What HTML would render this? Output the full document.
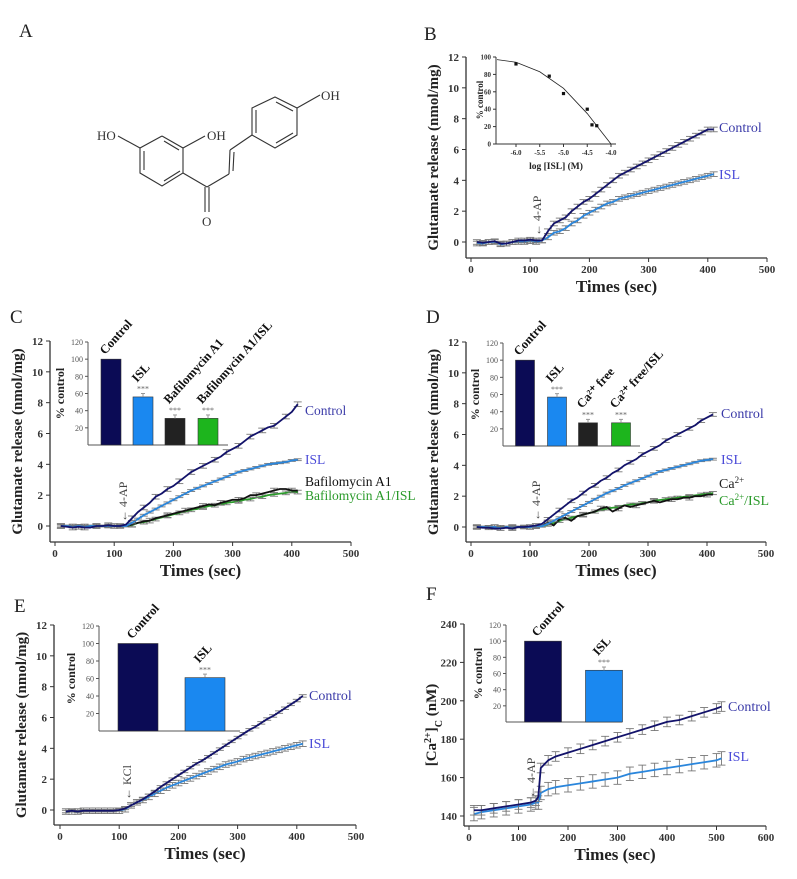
<!DOCTYPE html>
<html><head><meta charset="utf-8"><style>
body{margin:0;background:#fff}
svg{display:block;font-family:"Liberation Serif",serif}
</style></head><body>
<svg id="fig" width="797" height="879" viewBox="0 0 797 879" xmlns="http://www.w3.org/2000/svg">
<g stroke="#333" stroke-width="1.1" fill="none">
<text x="19" y="37" font-size="19" fill="#222" stroke="none">A</text>
<polyline points="162,136 183,148 183,173 162,186 140,173 140,148 162,136"/>
<line x1="144" y1="151" x2="144" y2="170"/><line x1="164" y1="181" x2="180" y2="171"/><line x1="164" y1="141" x2="179" y2="150"/>
<line x1="140" y1="148" x2="118" y2="136"/><line x1="183" y1="148" x2="205" y2="136"/>
<line x1="183" y1="173" x2="207" y2="187"/><line x1="205" y1="187" x2="205" y2="212"/><line x1="209" y1="187" x2="209" y2="212"/>
<line x1="207" y1="187" x2="229" y2="174"/><line x1="229" y1="174" x2="230" y2="150"/><line x1="233" y1="171" x2="234" y2="152"/>
<line x1="230" y1="150" x2="252" y2="135"/>
<polyline points="252,135 252,108 275,97 297,108 297,135 275,148 252,135"/>
<line x1="256" y1="110" x2="256" y2="133"/><line x1="276" y1="102" x2="293" y2="111"/><line x1="276" y1="143" x2="293" y2="133"/>
<line x1="297" y1="108" x2="320" y2="95"/>
<g fill="#333" stroke="none" font-size="13">
<text x="97" y="140">HO</text>
<text x="207" y="140">OH</text>
<text x="321" y="100">OH</text>
<text x="202" y="226">O</text>
</g></g>
</svg>
<script>
// ---------- data ----------
const T = [10,20,30,40,50,60,70,80,90,100,110,120,130,140,150,160,170,180,190,200,210,220,230,240,250,260,270,280,290,300,310,320,330,340,350,360,370,380,390,400,410];
const B_ctrl = [0,-0.05,0,0.05,-0.1,-0.1,0,0.1,0.1,0.15,0.1,0.1,0.7,1.2,1.4,1.6,2.0,2.3,2.6,2.8,3.1,3.4,3.7,4.0,4.3,4.5,4.7,4.9,5.1,5.3,5.5,5.7,5.9,6.1,6.3,6.5,6.7,6.9,7.1,7.3,7.3];
const B_isl = [-0.1,-0.1,0,0,-0.15,-0.1,0,0,0,0.05,0,0.1,0.3,0.6,0.7,0.9,1.2,1.4,1.7,1.9,2.1,2.3,2.5,2.6,2.8,2.9,3.0,3.1,3.2,3.3,3.4,3.5,3.6,3.7,3.8,3.9,4.0,4.1,4.2,4.3,4.4];
const B_ic50_x = [-6.0,-5.3,-5.0,-4.5,-4.4,-4.3];
const B_ic50_y = [92,78,58,40,22,21];
const B_fit_x = [-6.4,-6.0,-5.5,-5.0,-4.5,-4.2,-4.0];
const B_fit_y = [97,94,83,64,35,14,0];
const C_ctrl = [0,-0.05,-0.1,-0.05,-0.1,-0.1,0,0,0.05,0,0,0.1,0.5,0.9,1.2,1.5,1.9,2.1,2.4,2.6,2.9,3.2,3.5,3.7,3.9,4.1,4.3,4.5,4.8,5.0,5.2,5.5,5.8,6.0,6.2,6.4,6.5,6.8,7.1,7.4,7.9];
const C_isl = [0,0,-0.05,0,-0.05,0,0,0,0,0,0,0,0.2,0.45,0.7,0.9,1.1,1.3,1.5,1.7,1.9,2.1,2.3,2.45,2.6,2.75,2.9,3.05,3.2,3.35,3.5,3.6,3.7,3.8,3.9,4.0,4.05,4.1,4.15,4.25,4.3];
const C_baf = [0,0,0,-0.05,0,0,0,0,0,0,0,0,0.1,0.2,0.3,0.35,0.5,0.6,0.7,0.8,0.9,1.0,1.1,1.2,1.3,1.4,1.35,1.5,1.6,1.7,1.7,1.8,2.0,2.0,2.1,2.2,2.3,2.4,2.4,2.3,2.3];
const C_bafisl = [0,0,0,0,0,0,0,0,0,0,0,0,0.05,0.2,0.25,0.35,0.45,0.55,0.65,0.75,0.85,0.95,1.05,1.1,1.2,1.3,1.35,1.4,1.5,1.55,1.6,1.7,1.75,1.85,1.9,2.0,2.05,2.1,2.15,2.2,2.2];
const C_bars = [100,56,31,31];
const C_barNames = ["Control","ISL","Bafilomycin A1","Bafilomycin A1/ISL"];
const D_ctrl = [0,-0.05,-0.05,-0.1,-0.1,-0.05,-0.1,0,0,0.05,0.1,0.2,0.5,0.8,1.1,1.4,1.7,1.9,2.2,2.5,2.7,3.0,3.2,3.5,3.7,4.0,4.2,4.4,4.7,4.9,5.1,5.3,5.6,5.8,6.0,6.2,6.4,6.6,6.9,7.1,7.3];
const D_isl = [0,0,0,0,-0.05,0,0,0,0,0,0,0.05,0.2,0.4,0.6,0.8,1.0,1.2,1.4,1.6,1.8,2.0,2.2,2.35,2.5,2.7,2.85,3.0,3.15,3.3,3.45,3.6,3.7,3.8,3.9,4.0,4.1,4.2,4.3,4.35,4.4];
const D_ca = [0,0,0,0,-0.05,0,0,0,0,0,0,0.05,0.3,0.1,0.5,0.6,0.4,0.7,0.8,0.9,1.0,1.2,1.3,1.0,1.2,1.4,1.3,1.4,1.5,1.6,1.7,1.6,1.7,1.8,1.8,1.9,1.9,2.0,2.0,2.1,2.1];
const D_caisl = [0,0,0,0,0,0,0,0,0,0,0,0.05,0.15,0.25,0.4,0.5,0.6,0.7,0.8,0.9,1.0,1.1,1.2,1.25,1.3,1.4,1.45,1.5,1.55,1.6,1.7,1.75,1.8,1.85,1.9,1.95,2.0,2.05,2.1,2.15,2.2];
const D_bars = [100,57,27,27];
const D_barNames = ["Control","ISL","Ca²⁺ free","Ca²⁺ free/ISL"];
const E_ctrl = [-0.1,-0.05,-0.1,-0.05,-0.05,-0.05,-0.05,-0.05,-0.05,0,0.1,0.3,0.5,0.7,0.95,1.2,1.5,1.75,2.0,2.25,2.5,2.75,3.0,3.2,3.45,3.7,3.95,4.2,4.45,4.7,4.95,5.2,5.4,5.65,5.9,6.1,6.35,6.6,6.85,7.1,7.4];
const E_isl = [-0.1,-0.1,-0.1,-0.05,-0.05,-0.05,-0.05,-0.05,-0.05,-0.05,0.05,0.3,0.5,0.65,0.85,1.05,1.25,1.45,1.6,1.75,1.9,2.05,2.2,2.35,2.5,2.65,2.8,2.95,3.05,3.15,3.3,3.4,3.5,3.6,3.7,3.8,3.9,4.0,4.1,4.2,4.3];
const E_bars = [100,61];
const E_barNames = ["Control","ISL"];
const F_T = [10,25,50,75,100,125,135,140,145,160,175,200,225,250,275,300,325,350,375,400,425,450,475,500,510];
const F_ctrl = [143,143,144,145,146,147,148,150,165,169,171,173,175,177,179,181,183,185,187,189,190,192,194,196,197];
const F_isl = [141,142,143,144,145,146,147,147,152,154,155,156,157,158,159,160,162,163,164,165,166,167,168,169,170];
const F_bars = [100,64];
const F_barNames = ["Control","ISL"];
const yTicks12 = [0,2,4,6,8,10,12];
const xTicks500 = [0,100,200,300,400,500];
const xTicks600 = [0,100,200,300,400,500,600];
const yTicksF = [140,160,180,200,220,240];
const insetTicks = [20,40,60,80,100,120];
const ic50Yticks = [0,20,40,60,80,100];
const ic50Xticks = [-6.0,-5.5,-5.0,-4.5,-4.0];

// ---------- helpers ----------
const NS="http://www.w3.org/2000/svg";
const svg=document.getElementById('fig');
function mk(tag,attrs,parent,txt){const e=document.createElementNS(NS,tag);for(const k in attrs)e.setAttribute(k,attrs[k]);if(txt!==undefined)e.textContent=txt;(parent||svg).appendChild(e);return e;}
function lin(d0,d1,p0,p1){return v=>p0+(v-d0)*(p1-p0)/(d1-d0);}
const NAVY="#12126a",BLUE="#2a86dc",BLACK="#111",GREEN="#2a9a2a";

function axes(g,cfg,name){
  const sx=cfg.sx,sy=cfg.sy;
  let a=mk('line',{x1:cfg.ax,y1:sy(cfg.yt[cfg.yt.length-1]),x2:cfg.ax,y2:cfg.ay,stroke:'#333','stroke-width':1.3},g);
  
  
  a=mk('line',{x1:cfg.ax,y1:cfg.ay,x2:sx(cfg.xt[cfg.xt.length-1]),y2:cfg.ay,stroke:'#333','stroke-width':1.3},g);
  
  
  cfg.yt.forEach(v=>{mk('line',{x1:cfg.ax-4,x2:cfg.ax,y1:sy(v),y2:sy(v),stroke:'#333'},g);
    const t=mk('text',{x:cfg.ax-7,y:sy(v)+4,'text-anchor':'end','font-size':11,'font-weight':'bold',fill:'#333'},g,v);
    
    });
  cfg.xt.forEach(v=>{mk('line',{x1:sx(v),x2:sx(v),y1:cfg.ay,y2:cfg.ay+4,stroke:'#333'},g);
    const t=mk('text',{x:sx(v),y:cfg.ay+15,'text-anchor':'middle','font-size':11,'font-weight':'bold',fill:'#333'},g,v);
    
    });
  const xt=mk('text',{x:(cfg.ax+sx(cfg.xt[cfg.xt.length-1]))/2,y:cfg.ay+34,'text-anchor':'middle','font-size':17,'font-weight':'bold',fill:'#222'},g,'Times (sec)');
  
  
  const cy=(sy(cfg.yt[cfg.yt.length-1])+cfg.ay)/2, tx=cfg.ax-28;
  const yt=mk('text',{x:tx,y:cy,'text-anchor':'middle','font-size':15,'font-weight':'bold',fill:'#222',transform:`rotate(-90 ${tx} ${cy})`},g,cfg.ytitle||'Glutamate release (nmol/mg)');
  
  
  return yt;
}
function series(g,cfg,xs,ys,color,name,eb,ebEvery){
  const sx=cfg.sx,sy=cfg.sy;
  const eg=mk('g',{stroke:'#777','stroke-width':0.9},g);
  
  
  xs.forEach((x,i)=>{if(i%(ebEvery||1))return;const X=sx(x),y1=sy(ys[i]+eb),y2=sy(ys[i]-eb);
    mk('line',{x1:X,x2:X,y1:y1,y2:y2},eg);mk('line',{x1:X-4,x2:X+4,y1:y1,y2:y1},eg);mk('line',{x1:X-4,x2:X+4,y1:y2,y2:y2},eg);});
  const p=mk('polyline',{points:xs.map((x,i)=>sx(x)+','+sy(ys[i])).join(' '),fill:'none',stroke:color,'stroke-width':1.8,'stroke-linejoin':'round'},g);
  
  
}
function label(g,x,y,txt,color,name,size){
  const t=mk('text',{x:x,y:y,'font-size':size||14,fill:color},g,txt);
  
  
  return t;
}
function arrowNote(g,x,y,txt){
  const t=mk('text',{x:x,y:y,'font-size':12,fill:'#444',transform:`rotate(-90 ${x} ${y})`},g,'← '+txt);
  
  
}
function inset(g,c,vals,names,colors,name){
  const sy=lin(0,120,c.y0,c.y120);
  let a=mk('line',{x1:c.ax,x2:c.ax,y1:c.y120,y2:c.y0,stroke:'#555'},g);
  
  
  a=mk('line',{x1:c.ax,x2:c.xEnd,y1:c.y0,y2:c.y0,stroke:'#555'},g);
  
  
  insetTicks.forEach(v=>{mk('line',{x1:c.ax-3,x2:c.ax,y1:sy(v),y2:sy(v),stroke:'#555'},g);
    const t=mk('text',{x:c.ax-5,y:sy(v)+3,'text-anchor':'end','font-size':8,fill:'#555'},g,v);
    
    });
  const cy=(c.y0+c.y120)/2,tx=c.ax-24;
  const yt=mk('text',{x:tx,y:cy,'text-anchor':'middle','font-size':12,'font-weight':'bold',fill:'#222',transform:`rotate(-90 ${tx} ${cy})`},g,'% control');
  
  
  vals.forEach((v,i)=>{const cx=c.cx[i],w=c.w;
    const r=mk('rect',{x:cx-w/2,y:sy(v),width:w,height:c.y0-sy(v),fill:colors[i],stroke:'#333','stroke-width':0.6},g);
    
    
    if(i>0){mk('line',{x1:cx,x2:cx,y1:sy(v+4),y2:sy(v),stroke:'#999'},g);mk('line',{x1:cx-2,x2:cx+2,y1:sy(v+4),y2:sy(v+4),stroke:'#999'},g);
      const s=mk('text',{x:cx,y:sy(v+5)-1,'text-anchor':'middle','font-size':8,fill:'#666'},g,'***');
      
      }
    const ly=sy(v)-(i>0?14:4),lx=cx-6;
    const t=mk('text',{x:lx,y:ly,'font-size':12.5,'font-weight':'bold',fill:'#111',transform:`rotate(-48 ${lx} ${ly})`},g,names[i]);
    
    
  });
}
function panelLetter(g,x,y,L){const t=mk('text',{x:x,y:y,'font-size':19,fill:'#222'},g,L);
  
  }

// ---------- Panel B ----------
let g=mk('g',{});


panelLetter(g,424,40,'B');
let cB={ax:466,ay:258,sx:lin(0,500,471,767),sy:lin(0,12,242,57),xt:xTicks500,yt:yTicks12};
axes(g,cB,'panel-b');
series(g,cB,T,B_isl,BLUE,'b-isl',0.15);
series(g,cB,T,B_ctrl,NAVY,'b-control',0.15);
arrowNote(g,541,236,'4-AP');
label(g,719,132,'Control','#3a3aa8','b-control-label');
label(g,719,179,'ISL','#4a4ad8','b-isl-label');
// IC50 inset
const ix=lin(-6,-4,516,611), iy=lin(0,100,144,57);
mk('line',{x1:496,x2:496,y1:57,y2:144,stroke:'#333'},g);
mk('line',{x1:496,x2:616,y1:144,y2:144,stroke:'#333'},g);
ic50Yticks.forEach(v=>{mk('line',{x1:493,x2:496,y1:iy(v),y2:iy(v),stroke:'#333'},g);
  const t=mk('text',{x:491,y:iy(v)+2.5,'text-anchor':'end','font-size':7,'font-weight':'bold',fill:'#333'},g,v);
  
  });
ic50Xticks.forEach(v=>{mk('line',{x1:ix(v),x2:ix(v),y1:144,y2:147,stroke:'#333'},g);
  const t=mk('text',{x:ix(v),y:155,'text-anchor':'middle','font-size':7,'font-weight':'bold',fill:'#333'},g,v.toFixed(1));
  
  });
let it=mk('text',{x:556,y:169,'text-anchor':'middle','font-size':9.5,'font-weight':'bold',fill:'#222'},g,'log [ISL] (M)');


it=mk('text',{x:483,y:100,'text-anchor':'middle','font-size':9,'font-weight':'bold',fill:'#222',transform:'rotate(-90 483 100)'},g,'% control');


let fit=mk('polyline',{points:B_fit_x.map((x,i)=>ix(x)+','+iy(B_fit_y[i])).join(' '),fill:'none',stroke:'#222','stroke-width':0.8},g);


B_ic50_x.forEach((x,i)=>{const p=mk('rect',{x:ix(x)-1.6,y:iy(B_ic50_y[i])-1.6,width:3.2,height:3.2,fill:'#111'},g);
  
  });

// ---------- Panel C ----------
g=mk('g',{});


panelLetter(g,10,323,'C');
let cC={ax:50,ay:542,sx:lin(0,500,55,351),sy:lin(0,12,526,341),xt:xTicks500,yt:yTicks12};
axes(g,cC,'panel-c');
series(g,cC,T,C_bafisl,GREEN,'c-bafilomycin-isl',0.12,2);
series(g,cC,T,C_baf,BLACK,'c-bafilomycin',0.15,3);
series(g,cC,T,C_isl,BLUE,'c-isl',0.06);
series(g,cC,T,C_ctrl,NAVY,'c-control',0.15,2);
arrowNote(g,127,522,'4-AP');
label(g,305,415,'Control','#3a3aa8','c-control-label',13.5);
label(g,305,464,'ISL','#4a4ad8','c-isl-label',13.5);
label(g,305,486,'Bafilomycin A1','#111','c-bafilomycin-label',13.5);
label(g,305,500,'Bafilomycin A1/ISL','#2a9a2a','c-bafilomycin-isl-label',13.5);
inset(g,{ax:88,xEnd:228,y0:445,y120:342,cx:[111,143,175,208],w:20},C_bars,C_barNames,["#0b0b55","#1a88f0","#222","#1db51d"],'c-inset');

// ---------- Panel D ----------
g=mk('g',{});


panelLetter(g,426,323,'D');
let cD={ax:466,ay:542,sx:lin(0,500,471,766),sy:lin(0,12,527,342),xt:xTicks500,yt:yTicks12};
axes(g,cD,'panel-d');
series(g,cD,T,D_caisl,GREEN,'d-ca-free-isl',0.1,2);
series(g,cD,T,D_ca,BLACK,'d-ca-free',0.15,3);
series(g,cD,T,D_isl,BLUE,'d-isl',0.06);
series(g,cD,T,D_ctrl,NAVY,'d-control',0.12,2);
arrowNote(g,540,521,'4-AP');
label(g,721,418,'Control','#3a3aa8','d-control-label');
label(g,721,464,'ISL','#4a4ad8','d-isl-label');
let t1=label(g,719,488,'Ca','#222','d-ca-label');
mk('tspan',{'baseline-shift':'super','font-size':9},t1,'2+');
t1=label(g,719,505,'Ca','#2a9a2a','d-ca-isl-label');
mk('tspan',{'baseline-shift':'super','font-size':9},t1,'2+');
mk('tspan',{},t1,'/ISL');
inset(g,{ax:503,xEnd:640,y0:446,y120:343,cx:[525,557,588,621],w:19},D_bars,D_barNames,["#0b0b55","#1a88f0","#222","#1db51d"],'d-inset');

// ---------- Panel E ----------
g=mk('g',{});


panelLetter(g,14,612,'E');
let cE={ax:54,ay:825,sx:lin(0,500,60,356),sy:lin(0,12,810,625),xt:xTicks500,yt:yTicks12};
axes(g,cE,'panel-e');
series(g,cE,T,E_isl,BLUE,'e-isl',0.18);
series(g,cE,T,E_ctrl,NAVY,'e-control',0.08);
arrowNote(g,131,800,'KCl');
label(g,309,700,'Control','#3a3aa8','e-control-label');
label(g,309,748,'ISL','#4a4ad8','e-isl-label');
inset(g,{ax:99,xEnd:240,y0:731,y120:626,cx:[138,205],w:40},E_bars,E_barNames,["#0b0b55","#1a88f0"],'e-inset');

// ---------- Panel F ----------
g=mk('g',{});


panelLetter(g,426,600,'F');
let cF={ax:464,ay:826,sx:lin(0,600,469,766),sy:lin(140,240,816,624),xt:xTicks600,yt:yTicksF,ytitle:''};
let fy=axes(g,cF,'panel-f');
fy.textContent='';
mk('tspan',{},fy,'[Ca');mk('tspan',{'baseline-shift':'super','font-size':10},fy,'2+');mk('tspan',{},fy,']');mk('tspan',{'baseline-shift':'sub','font-size':10},fy,'C');mk('tspan',{},fy,' (nM)');
series(g,cF,F_T,F_isl,BLUE,'f-isl',3.5,1);
series(g,cF,F_T,F_ctrl,NAVY,'f-control',2.5,1);
arrowNote(g,535,798,'4-AP');
label(g,728,711,'Control','#3a3aa8','f-control-label');
label(g,728,761,'ISL','#4a4ad8','f-isl-label');
inset(g,{ax:506,xEnd:622,y0:722,y120:625,cx:[543,604],w:37},F_bars,F_barNames,["#0b0b55","#1a88f0"],'f-inset');
</script>
</body></html>
